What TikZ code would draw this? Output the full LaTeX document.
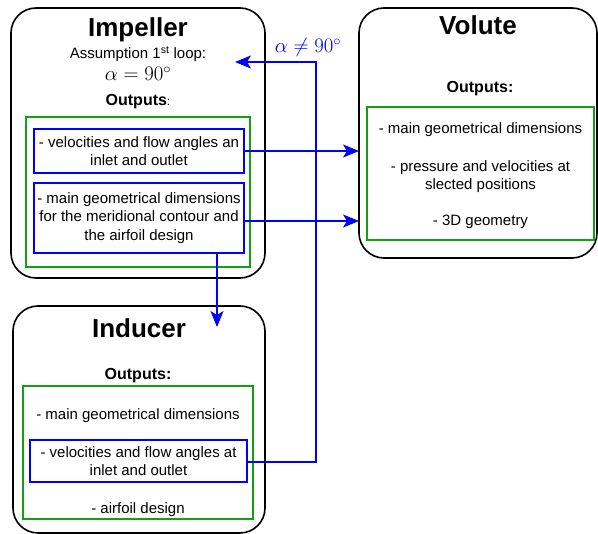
\documentclass[tikz,border=0pt]{standalone}
\usepackage[no-math]{fontspec}
\setmainfont{Liberation Sans}
\usetikzlibrary{arrows.meta}
\definecolor{boxgreen}{RGB}{20,160,20}
\definecolor{linkblue}{RGB}{0,0,255}
\tikzset{
  unitbox/.style={draw=black, line width=1.6pt, rounded corners=25pt, inner sep=0pt, outer sep=0pt},
  outbox/.style={draw=boxgreen, line width=1.6pt, inner sep=0pt, outer sep=0pt},
  databox/.style={draw=linkblue, line width=1.2pt, inner sep=0pt, outer sep=0pt, align=center,
    font=\fontsize{15}{18.6}\selectfont},
  title/.style={anchor=base, font=\fontsize{26}{30}\selectfont\bfseries, inner sep=0pt},
  heading/.style={anchor=base, font=\fontsize{16}{19}\selectfont\bfseries, inner sep=0pt},
  body/.style={anchor=base, font=\fontsize{15}{18}\selectfont, inner sep=0pt, align=center},
  flow/.style={draw=linkblue, line width=1.2pt, -{Stealth[length=16pt, width=13pt, inset=4pt]}},
}
\begin{document}
\begin{tikzpicture}[x=1pt, y=-1pt]
\useasboundingbox (0,0) rectangle (598,534);

% Impeller
\node[unitbox, minimum width=254pt, minimum height=270pt] (imp) at (138,143) {};
\node[title] (impT) at (138,37) {Impeller};
\node[body] (impA) at (138,58.5) {Assumption 1\textsuperscript{st} loop:};
\node[body, font=\fontsize{20}{24}\selectfont] (impM) at (138,81) {$\alpha = 90^\circ$};
\node[heading] (impO) at (138,106) {Outputs{\mdseries\fontsize{12}{14}\selectfont:}};
\node[outbox, minimum width=224pt, minimum height=150pt] (impG) at (138,192) {};
\node[databox, minimum width=210pt, minimum height=44pt] (imp1) at (139,151)
  {- velocities and flow angles an\\inlet and outlet};
\node[databox, minimum width=210pt, minimum height=70pt] (imp2) at (139,218)
  {- main geometrical dimensions\\for the meridional contour and\\the airfoil design};

% Volute
\node[unitbox, minimum width=238pt, minimum height=250pt] (vol) at (478,133) {};
\node[title] (volT) at (478,35) {Volute};
\node[heading] (volO) at (480,93) {Outputs:};
\node[outbox, minimum width=227pt, minimum height=133pt] (volG) at (480.5,173.5) {};
\node[body] (vol1) at (480.5,134) {- main geometrical dimensions};
\node[body] (vol2) at (480.5,172) {- pressure and velocities at};
\node[body] (vol3) at (480.5,190) {slected positions};
\node[body] (vol4) at (480.5,226) {- 3D geometry};

% Inducer
\node[unitbox, minimum width=252pt, minimum height=227pt] (ind) at (139,419.5) {};
\node[title] (indT) at (139,338) {Inducer};
\node[heading] (indO) at (138,380) {Outputs:};
\node[outbox, minimum width=230pt, minimum height=133pt] (indG) at (138,452.5) {};
\node[body] (ind0) at (138,420) {- main geometrical dimensions};
\node[databox, minimum width=217pt, minimum height=42pt] (ind1) at (138.5,461)
  {- velocities and flow angles at\\inlet and outlet};
\node[body] (ind2) at (138,514) {- airfoil design};

% Connectors
\coordinate (down) at (217,327);
\coordinate (turn) at (316,62);
\coordinate (back) at (235,62);
\draw[flow] (imp1.east) -- (imp1.east -| vol.west);
\draw[flow] ([yshift=-3pt]imp2.east) -- ([yshift=-3pt]imp2.east -| vol.west);
\draw[flow] (down |- imp2.south) -- (down);
\draw[flow] ([yshift=-1pt]ind1.east) -| (turn) -- (back);
\node[anchor=base, inner sep=0pt, text=linkblue, font=\fontsize{20}{24}\selectfont] (lbl) at (308,53) {$\alpha \neq 90^\circ$};
\end{tikzpicture}
\end{document}
